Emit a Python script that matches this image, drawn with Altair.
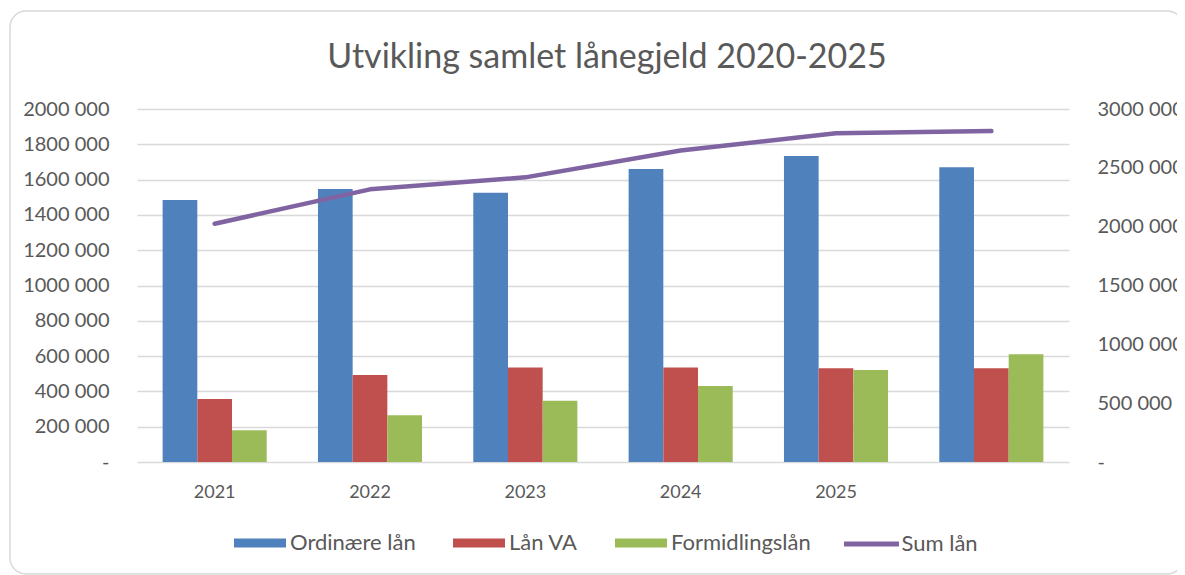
import altair as alt
import pandas as pd

# ---- data ----
categories = ["2021", "2022", "2023", "2024", "2025", ""]
series_names = ["Ordinære lån", "Lån VA", "Formidlingslån"]
bar_colors = ["#4F81BD", "#C0504D", "#9BBB59"]
line_name = "Sum lån"
line_color = "#8064A2"

ordinaere = [1485000, 1547000, 1526000, 1660000, 1734000, 1670000]
laan_va = [357000, 493000, 536000, 536000, 531000, 531000]
formidling = [180000, 265000, 347000, 431000, 521000, 610000]
sum_laan = [2025000, 2317000, 2419000, 2648000, 2793000, 2812000]

left_ticks = [0, 200000, 400000, 600000, 800000, 1000000, 1200000, 1400000, 1600000, 1800000, 2000000]
right_ticks = [0, 500000, 1000000, 1500000, 2000000, 2500000, 3000000]

title_text = "Utvikling samlet lånegjeld 2020-2025"

# ---- tables ----
rows = []
for name, vals in zip(series_names, [ordinaere, laan_va, formidling]):
    for c, v in zip(categories, vals):
        rows.append({"year": c, "series": name, "value": v})
bars_df = pd.DataFrame(rows)
line_df = pd.DataFrame({"year": categories, "series": [line_name] * len(categories), "value": sum_laan})
frame_df = pd.DataFrame({"k": [0]})

FONT = "Lato"
TXT = "#595959"

rect_path = "M-1,-0.17H1V0.17H-1Z"

bar_legend = alt.Legend(
    title=None, orient="none", legendX=97, legendY=408,
    direction="horizontal", columns=3, columnPadding=37,
    labelFont=FONT, labelFontSize=22, labelColor=TXT, labelOffset=4,
    symbolSize=2704, symbolType=rect_path, symbolStrokeWidth=0, symbolOpacity=1,
)
line_legend = alt.Legend(
    title=None, orient="none", legendX=704.5, legendY=405,
    direction="horizontal",
    labelFont=FONT, labelFontSize=22, labelColor=TXT, labelOffset=0,
    symbolSize=3025, symbolType="M-1,0H1", symbolStrokeWidth=5, symbolOpacity=1,
)

x_enc = alt.X(
    "year:N",
    sort=categories,
    scale=alt.Scale(domain=categories, paddingInner=0.33, paddingOuter=0.165),
    axis=alt.Axis(
        title=None, labelAngle=0, labelFont=FONT, labelFontSize=18, labelColor=TXT,
        labelPadding=21, domain=False, ticks=False, tickSize=0, grid=False,
    ),
)

left_label = "datum.value == 0 ? '-\u00a0\u00a0' : floor(datum.value / 1000) + ' ' + format(datum.value % 1000, '03d')"
right_label = "datum.value == 0 ? '-' : floor(datum.value / 1000) + ' ' + format(datum.value % 1000, '03d')"

bars = alt.Chart(bars_df).mark_bar().encode(
    x=x_enc,
    xOffset=alt.XOffset("series:N", sort=series_names,
                        scale=alt.Scale(domain=series_names, paddingInner=0, paddingOuter=0)),
    y=alt.Y(
        "value:Q",
        scale=alt.Scale(domain=[0, 2000000], nice=False),
        axis=alt.Axis(
            title=None, orient="left", values=left_ticks, labelExpr=left_label,
            labelFont=FONT, labelFontSize=20, labelColor=TXT, labelPadding=28,
            domain=False, ticks=False, tickSize=0, grid=True,
            gridColor="#D9D9D9", gridWidth=1.4,
        ),
    ),
    color=alt.Color("series:N", sort=series_names,
                    scale=alt.Scale(domain=series_names, range=bar_colors), legend=bar_legend),
)

line = alt.Chart(line_df).mark_line(strokeWidth=4.5, strokeCap="round", strokeJoin="round").encode(
    x=x_enc,
    y=alt.Y(
        "value:Q",
        scale=alt.Scale(domain=[0, 3000000], nice=False),
        axis=alt.Axis(
            title=None, orient="right", values=right_ticks, labelExpr=right_label,
            labelFont=FONT, labelFontSize=20, labelColor=TXT, labelPadding=28,
            domain=False, ticks=False, tickSize=0, grid=False,
        ),
    ),
    stroke=alt.Stroke("series:N", scale=alt.Scale(domain=[line_name], range=[line_color]),
                      legend=line_legend),
)

frame = alt.Chart(frame_df).mark_rect(
    fill=None, stroke="#D9D9D9", strokeWidth=1.5, cornerRadius=16
).encode(
    x=alt.value(-127), x2=alt.value(1046), y=alt.value(-98), y2=alt.value(465)
)

chart = (
    alt.layer(frame, bars, line)
    .resolve_scale(y="independent")
    .properties(
        width=932,
        height=353,
        padding={"left": 129, "top": 101, "right": 108, "bottom": 113},
        autosize=alt.AutoSizeParams(type="none"),
        title=alt.Title(
            title_text, font=FONT, fontSize=34, color=TXT, fontWeight="normal",
            anchor="middle", frame="group", baseline="alphabetic", offset=-92, dx=4,
        ),
    )
    .configure_view(stroke=None)
)

chart.save("out.html", embed_options={"renderer": "svg", "actions": False})
